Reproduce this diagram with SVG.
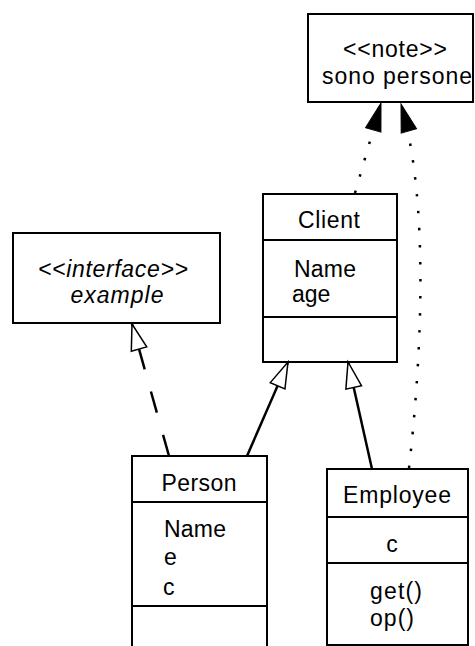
<svg xmlns="http://www.w3.org/2000/svg" width="475" height="646" viewBox="0 0 475 646">
<style>
.box{fill:#fff;stroke:#000;stroke-width:2}
.div{stroke:#000;stroke-width:2}
text{font-family:"Liberation Sans",Arial,sans-serif;font-size:23px;fill:#000}
.c{text-anchor:middle}
.i{font-style:italic}
.solid{fill:none;stroke:#000;stroke-width:2.5}
.dash{fill:none;stroke:#000;stroke-width:2.5;stroke-dasharray:22 23}
.dot{fill:none;stroke:#000;stroke-width:2.5;stroke-dasharray:2.5 14.5}
</style>
<defs>
<marker id="hollow" markerWidth="30" markerHeight="20" refX="26" refY="8" orient="auto" markerUnits="userSpaceOnUse" overflow="visible">
<path d="M0,0 L26,8 L0,16 Z" fill="#fff" stroke="#000" stroke-width="1.5"/>
</marker>
<marker id="filled" markerWidth="30" markerHeight="20" refX="28" refY="8" orient="auto" markerUnits="userSpaceOnUse" overflow="visible">
<path d="M0,0 L28,8 L0,16 Z" fill="#000" stroke="#000" stroke-width="1"/>
</marker>
</defs>

<g id="note">
<rect class="box" x="308" y="14" width="165" height="88"/>
<text class="c" x="395" y="57" textLength="104" lengthAdjust="spacing">&lt;&lt;note&gt;&gt;</text>
<text class="c" x="397" y="84" textLength="150" lengthAdjust="spacing">sono persone</text>
</g>

<g id="interface">
<rect class="box" x="13" y="233" width="207" height="90"/>
<text class="c i" x="113" y="277" textLength="150" lengthAdjust="spacing">&lt;&lt;interface&gt;&gt;</text>
<text class="c i" x="117" y="303" textLength="93" lengthAdjust="spacing">example</text>
</g>

<g id="client">
<rect class="box" x="263" y="194" width="134" height="168"/>
<line class="div" x1="263" y1="240" x2="397" y2="240"/>
<line class="div" x1="263" y1="317" x2="397" y2="317"/>
<text class="c" x="329" y="228" textLength="62" lengthAdjust="spacing">Client</text>
<text x="294" y="277" textLength="62" lengthAdjust="spacing">Name</text>
<text x="292" y="302">age</text>
</g>

<g id="person">
<rect class="box" x="132" y="456" width="135" height="200"/>
<line class="div" x1="132" y1="502" x2="267" y2="502"/>
<line class="div" x1="132" y1="606" x2="267" y2="606"/>
<text class="c" x="199" y="491" textLength="75" lengthAdjust="spacing">Person</text>
<text x="164" y="537" textLength="62" lengthAdjust="spacing">Name</text>
<text x="164" y="565">e</text>
<text x="163" y="595">c</text>
</g>

<g id="employee">
<rect class="box" x="327" y="469" width="141" height="176"/>
<line class="div" x1="327" y1="517" x2="468" y2="517"/>
<line class="div" x1="327" y1="563" x2="468" y2="563"/>
<text class="c" x="397" y="503" textLength="108" lengthAdjust="spacing">Employee</text>
<text class="c" x="392" y="552">c</text>
<text x="370" y="599" textLength="52" lengthAdjust="spacing">get()</text>
<text x="370" y="626" textLength="44" lengthAdjust="spacing">op()</text>
</g>

<g id="connectors">
<path class="dash" d="M169,456 L132,324" marker-end="url(#hollow)"/>
<path class="solid" d="M247,456 L288,362" marker-end="url(#hollow)"/>
<path class="solid" d="M372,469 L348,362" marker-end="url(#hollow)"/>
<path class="dot" d="M355,193 L381,103" marker-end="url(#filled)"/>
<path class="dot" d="M409,468 C419,380 432,210 401,104" marker-end="url(#filled)"/>
</g>
</svg>
